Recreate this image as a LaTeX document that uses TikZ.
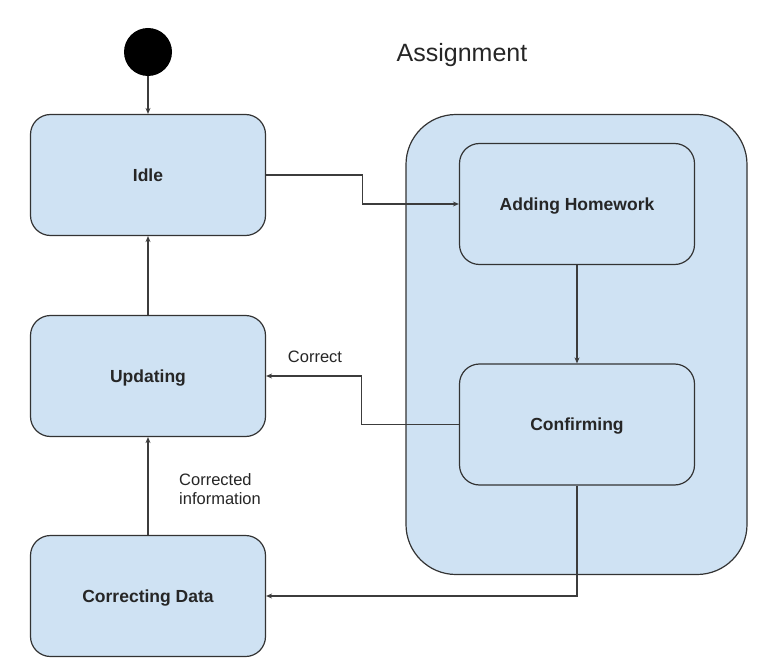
\documentclass[tikz,border=0pt]{standalone}
\usepackage{fontspec}
\setmainfont{Liberation Sans}
\usetikzlibrary{arrows.meta}
\definecolor{boxfill}{HTML}{CFE2F3}
\definecolor{boxline}{HTML}{333333}
\definecolor{conline}{HTML}{3C3C3C}
\begin{document}
\begin{tikzpicture}[x=1pt,y=-1pt,
  statebox/.style={draw=boxline,fill=boxfill,line width=1.2pt,rounded corners=20pt,
    minimum width=235pt,minimum height=121pt,inner sep=0pt,text height=12.6pt,text depth=0pt,
    font=\fontsize{17.5}{20}\selectfont\bfseries,text=black!85},
  conn/.style={draw=conline,line width=1.1pt,-{Stealth[length=6pt,width=5pt]}},
  lbl/.style={font=\fontsize{16.5}{19}\selectfont,text=black!85,inner sep=0pt}]
\useasboundingbox (0,0) rectangle (771,671);
\fill[white] (0,0) rectangle (771,671);
% container
\node[draw=boxline,fill=boxfill,line width=1.2pt,rounded corners=50pt,
  minimum width=341pt,minimum height=460pt,inner sep=0pt] (cont) at (576.5,344.5) {};
\node[font=\fontsize{25}{28}\selectfont,text=black!85,inner sep=0pt,anchor=base] (title) at (462,62) {Assignment};
% start
\node[circle,fill=black,minimum size=48pt,inner sep=0pt] (start) at (148,52) {};
% states
\node[statebox] (idle) at (148,175) {Idle};
\node[statebox] (upd) at (148,376) {Updating};
\node[statebox] (corr) at (148,596) {Correcting Data};
\node[statebox] (add) at (577,204) {Adding Homework};
\node[statebox] (conf) at (577,424.5) {Confirming};
% connectors
\draw[conn] (start) -- (idle);
\draw[conn] (upd) -- (idle);
\draw[conn] (corr) -- (upd);
\draw[conn] (add) -- (conf);
\draw[conn] (idle.east) -- ++(96,0) |- (add.west);
\draw[conn] (conf.west) -- ++(-97,0) |- (upd.east);
\draw[conn] (conf.south) |- (corr.east);
% labels
\node[lbl] (lcorrect) at (315,357) {Correct};
\node[lbl,anchor=west,align=left] (lcorrected) at (179,489) {Corrected\\information};
\end{tikzpicture}
\end{document}
